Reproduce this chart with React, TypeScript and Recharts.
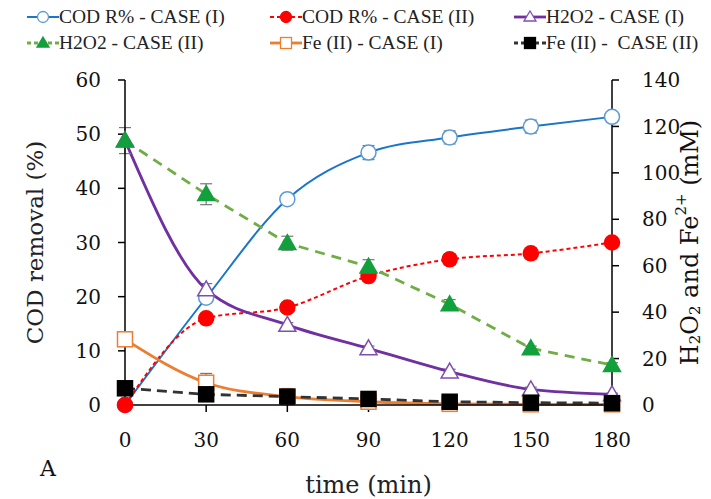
import React from 'react';
import { LineChart, Line, XAxis, YAxis, ErrorBar, Label } from 'recharts';

const times = [0, 30, 60, 90, 120, 150, 180];
const codI = [0, 19.8, 38.0, 46.6, 49.4, 51.4, 53.2];
const codIErr = [0, 0.8, 0.8, 1.3, 1.2, 1.2, 0.5];
const codII = [0, 16.0, 18.0, 23.8, 26.9, 28.0, 30.0];
const codIIErr = [0, 0.5, 0.5, 0.8, 1.0, 1.0, 0.5];
const h2o2I = [114, 49.8, 34.5, 24.4, 14.4, 6.7, 4.6];
const h2o2IErr = [0, 2.5, 1, 1, 1, 1, 0.5];
const h2o2II = [113.9, 90.8, 69.7, 59.6, 43.4, 24.4, 17.2];
const h2o2IIErr = [5.6, 4.5, 3, 3, 2, 1, 1];
const feI = [28.3, 9.6, 3.6, 1.4, 0.5, 0.3, 0.3];
const feIErr = [2.5, 4, 1, 1, 0.5, 0.3, 0.3];
const feII = [7.2, 4.6, 3.6, 2.6, 1.4, 1.0, 0.8];
const feIIErr = [1, 1, 3.5, 2, 1.4, 1, 0.5];

const leftTicks = [0, 10, 20, 30, 40, 50, 60];
const rightTicks = [0, 20, 40, 60, 80, 100, 120, 140];

const data = times.map((t, i) => ({
  t,
  codI: codI[i], codIErr: codIErr[i],
  codII: codII[i], codIIErr: codIIErr[i],
  h2o2I: h2o2I[i], h2o2IErr: h2o2IErr[i],
  h2o2II: h2o2II[i], h2o2IIErr: h2o2IIErr[i],
  feI: feI[i], feIErr: feIErr[i],
  feII: feII[i], feIIErr: feIIErr[i],
}));

type Shape = 'circle' | 'triangle' | 'square';

const drawMarker = (shape: Shape, cx: number, cy: number, fill: string, stroke: string, key?: any) => {
  if (shape === 'circle') {
    return <circle key={key} cx={cx} cy={cy} r={7.5} fill={fill} stroke={stroke} strokeWidth={1.5} />;
  }
  if (shape === 'triangle') {
    const s = 8.5;
    return (
      <polygon key={key} points={`${cx},${cy - s} ${cx + s},${cy + s * 0.75} ${cx - s},${cy + s * 0.75}`}
        fill={fill} stroke={stroke} strokeWidth={1.5} />
    );
  }
  return <rect key={key} x={cx - 7.5} y={cy - 7.5} width={15} height={15} fill={fill} stroke={stroke} strokeWidth={1.5} />;
};

const dotFn = (shape: Shape, fill: string, stroke: string) => (props: any) =>
  drawMarker(shape, props.cx, props.cy, fill, stroke, props.index);

const series = [
  { key: 'codI', name: 'COD R% - CASE (I)', axis: 'left', color: '#1b75c9', dash: undefined, width: 2, type: 'monotone', shape: 'circle' as Shape, fill: '#ffffff', mstroke: '#5b9bd5' },
  { key: 'codII', name: 'COD R% - CASE (II)', axis: 'left', color: '#ff0000', dash: '4 3', width: 2, type: 'monotone', shape: 'circle' as Shape, fill: '#ff0000', mstroke: '#ff0000' },
  { key: 'h2o2I', name: 'H2O2 - CASE (I)', axis: 'right', color: '#7030a0', dash: undefined, width: 2.8, type: 'monotone', shape: 'triangle' as Shape, fill: '#ffffff', mstroke: '#7f4fb0' },
  { key: 'h2o2II', name: 'H2O2 - CASE (II)', axis: 'right', color: '#70ad47', dash: '10 7', width: 2.8, type: 'linear', shape: 'triangle' as Shape, fill: '#12a03c', mstroke: '#12a03c' },
  { key: 'feI', name: 'Fe (II) - CASE (I)', axis: 'right', color: '#ed7d31', dash: undefined, width: 2.8, type: 'monotone', shape: 'square' as Shape, fill: '#ffffff', mstroke: '#ed7d31' },
  { key: 'feII', name: 'Fe (II) -  CASE (II)', axis: 'right', color: '#333333', dash: '10 6', width: 2.8, type: 'linear', shape: 'square' as Shape, fill: '#000000', mstroke: '#000000' },
];

const legendCols = [27, 270, 514];

const ChartLegend = () => (
  <div style={{ position: 'absolute', left: 0, top: 0, width: 711, height: 60 }}>
    {series.map((s, i) => {
      const col = legendCols[i % 3];
      const row = Math.floor(i / 3);
      return (
        <div key={s.key} style={{
          position: 'absolute', left: col, top: 5 + row * 26, height: 24, display: 'flex', alignItems: 'center',
          fontFamily: '"Liberation Serif", serif', fontSize: 19.5, color: '#222', whiteSpace: 'pre',
        }}>
          <svg width={32} height={20} style={{ display: 'block' }}>
            <line x1={0} y1={10} x2={32} y2={10} stroke={s.color} strokeWidth={s.width}
              strokeDasharray={s.dash ? '4 3' : undefined} />
            {s.shape === 'circle' && <circle cx={16} cy={10} r={5.5} fill={s.fill} stroke={s.mstroke} strokeWidth={1.3} />}
            {s.shape === 'triangle' && <polygon points="16,4 22,14 10,14" fill={s.fill} stroke={s.mstroke} strokeWidth={1.3} />}
            {s.shape === 'square' && <rect x={10.5} y={4.5} width={11} height={11} fill={s.fill} stroke={s.mstroke} strokeWidth={1.3} />}
          </svg>
          <span>{s.name}</span>
        </div>
      );
    })}
  </div>
);

const tickFont = { fontFamily: '"DejaVu Serif", serif', fontSize: 20, fill: '#111' };
const labelFont = '"DejaVu Serif", serif';

const RightLabel = (props: any) => {
  const { viewBox } = props;
  const x = viewBox.x + viewBox.width - 21;
  const y = viewBox.y + viewBox.height / 2;
  return (
    <text x={x} y={y} transform={`rotate(-90 ${x} ${y})`} textAnchor="middle" dominantBaseline="central"
      fontFamily={labelFont} fontSize={24} fill="#111">
      <tspan>H</tspan>
      <tspan fontSize={15} dy={5}>2</tspan>
      <tspan dy={-5}>O</tspan>
      <tspan fontSize={15} dy={5}>2</tspan>
      <tspan dy={-5}> and Fe</tspan>
      <tspan fontSize={15} dy={-9}>2+</tspan>
      <tspan dy={9}> (mM)</tspan>
    </text>
  );
};

const App: React.FC = () => (
  <div style={{ position: 'relative', width: 711, height: 499, background: '#fff' }}>
    <style>{`body { margin: 0; }`}</style>
    <LineChart width={711} height={499} data={data} margin={{ top: 80, right: 0, bottom: 0, left: 0 }}>
      <XAxis dataKey="t" type="number" domain={[0, 180]} ticks={times} height={94}
        axisLine={{ stroke: '#000', strokeWidth: 1.5 }} tickLine={{ stroke: '#000', strokeWidth: 1.5 }}
        tickSize={7} tickMargin={21} tick={tickFont}>
        <Label value="time (min)" position="insideBottom" offset={6}
          style={{ fontFamily: labelFont, fontSize: 24, fill: '#222' }} />
      </XAxis>
      <YAxis yAxisId="left" orientation="left" width={125} domain={[0, 60]} ticks={leftTicks}
        axisLine={{ stroke: '#000', strokeWidth: 1.5 }} tickLine={{ stroke: '#000', strokeWidth: 1.5 }}
        tickSize={7} tickMargin={17} tick={tickFont}>
        <Label value="COD removal (%)" angle={-90} position="insideLeft" offset={35}
          style={{ fontFamily: labelFont, fontSize: 23, fill: '#222', textAnchor: 'middle' }} />
      </YAxis>
      <YAxis yAxisId="right" orientation="right" width={99} domain={[0, 140]} ticks={rightTicks}
        axisLine={{ stroke: '#000', strokeWidth: 1.5 }} tickLine={{ stroke: '#000', strokeWidth: 1.5 }}
        tickSize={7} tickMargin={23} tick={tickFont}>
        <Label content={RightLabel} />
      </YAxis>
      {series.map((s) => (
        <Line key={s.key} yAxisId={s.axis} dataKey={s.key} type={s.type as any} stroke={s.color}
          strokeWidth={s.width} strokeDasharray={s.dash} isAnimationActive={false}
          dot={dotFn(s.shape, s.fill, s.mstroke)} activeDot={false}>
          <ErrorBar dataKey={s.key + 'Err'} width={6} stroke="#777" strokeWidth={1.2} direction="y" />
        </Line>
      ))}
    </LineChart>
    <ChartLegend />
    <div style={{ position: 'absolute', left: 40, top: 456, fontFamily: labelFont, fontSize: 22, color: '#111' }}>A</div>
  </div>
);

export default App;
